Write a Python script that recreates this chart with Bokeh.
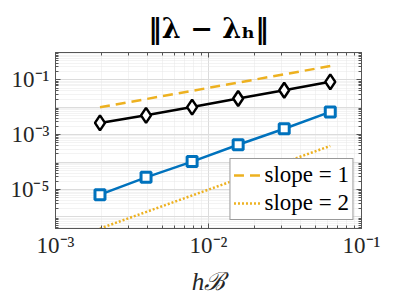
from bokeh.plotting import figure
from bokeh.models import (Range1d, FixedTicker, LogAxis, CustomJSTickFormatter, Legend)
from bokeh.embed import file_html
from bokeh.resources import INLINE

# ---- data ----
h = [1/512, 1/256, 1/128, 1/64, 1/32, 1/16]
err_black = [2.7e-3, 5.1e-3, 1.02e-2, 2.1e-2, 4.2e-2, 8.5e-2]
err_blue = [6.5e-6, 2.8e-5, 1.05e-4, 4.3e-4, 1.66e-3, 6.8e-3]
h_ref = [1/512, 1/16]
slope1 = [1.0e-2, 3.2e-1]
slope2 = [3.8e-7, 3.9e-4]
x_major = [1e-3, 1e-2, 1e-1]
y_major = [1e-5, 1e-3, 1e-1]
legend_labels = ["slope = 1", "slope = 2"]
title_text = "‖λ − λₕ‖"
xlabel_text = "hℬ"

BLUE = "#0072BD"
ORANGE = "#EDB120"
FONT = "Liberation Serif"

decades_x = [1e-3, 1e-2, 1e-1]
decades_y = [10.0 ** k for k in range(-7, 1)]
minor_x = [m * d for d in [1e-3, 1e-2] for m in range(2, 10)]
minor_y = [m * d for d in [10.0 ** k for k in range(-7, 0)] for m in range(2, 10)]

p = figure(frame_width=306, frame_height=176, x_axis_type="log", y_axis_type="log",
           x_range=Range1d(1e-3, 1e-1), y_range=Range1d(3.8e-7, 1.0),
           output_backend="svg", toolbar_location=None,
           min_border_left=55, min_border_right=22, min_border_top=52, min_border_bottom=60)

p.title.text = title_text
p.title.align = "center"
p.title.text_font = "DejaVu Serif"
p.title.text_font_size = "27px"
p.title.text_font_style = "bold"
p.title.text_color = "black"

fmt = CustomJSTickFormatter(code="""
const sup = {'-':'\\u207b','0':'\\u2070','1':'\\u00b9','2':'\\u00b2','3':'\\u00b3','4':'\\u2074','5':'\\u2075','6':'\\u2076','7':'\\u2077','8':'\\u2078','9':'\\u2079'};
const e = String(Math.round(Math.log10(tick)));
return '10' + e.split('').map(c => sup[c]).join('');
""")
blank = CustomJSTickFormatter(code="return ' ';")

def style_axis(ax, ticks, minors, labels=True):
    ax.ticker = FixedTicker(ticks=ticks, minor_ticks=minors)
    ax.major_tick_in = 5
    ax.major_tick_out = 0
    ax.minor_tick_in = 3
    ax.minor_tick_out = 0
    ax.axis_line_color = "#555555"
    ax.major_tick_line_color = "#555555"
    ax.minor_tick_line_color = "#555555"
    if labels:
        ax.formatter = fmt
        ax.major_label_text_font = FONT
        ax.major_label_text_font_size = "23px"
        ax.major_label_text_color = "#262626"
    else:
        ax.formatter = blank
        ax.major_label_text_font_size = "1px"
        ax.major_label_standoff = 0

bottom = p.below[0]
left = p.left[0]
style_axis(bottom, x_major, minor_x)
style_axis(left, y_major, minor_y)
bottom.major_label_standoff = 4
left.major_label_standoff = 6

bottom.axis_label = xlabel_text
bottom.axis_label_text_font = FONT
bottom.axis_label_text_font_size = "25px"
bottom.axis_label_text_font_style = "italic"
bottom.axis_label_text_color = "#262626"
bottom.axis_label_standoff = 7

top = LogAxis()
right = LogAxis()
style_axis(top, x_major, minor_x, labels=False)
style_axis(right, y_major, minor_y, labels=False)
p.add_layout(top, "above")
p.add_layout(right, "right")

for g, dec, mn in [(p.xgrid[0], decades_x, minor_x), (p.ygrid[0], decades_y, minor_y)]:
    g.ticker = FixedTicker(ticks=dec, minor_ticks=mn)
    g.grid_line_color = "#dcdcdc"
    g.grid_line_width = 1
    g.minor_grid_line_color = "#e6e6e6"
    g.minor_grid_line_dash = "1 1"

p.outline_line_color = "#555555"
p.background_fill_color = "white"
p.border_fill_color = "white"

r1 = p.line(h_ref, slope1, line_color=ORANGE, line_width=2.5, line_dash="10 6")
r2 = p.line(h_ref, slope2, line_color=ORANGE, line_width=2.5, line_dash="2 2")

p.line(h, err_black, line_color="black", line_width=2.5)
p.scatter(h, err_black, marker="diamond", size=15, fill_color="white",
          line_color="black", line_width=2.5)
p.line(h, err_blue, line_color=BLUE, line_width=2.5)
p.scatter(h, err_blue, marker="square", size=10, fill_color="white",
          line_color=BLUE, line_width=3)

legend = Legend(items=[(legend_labels[0], [r1]), (legend_labels[1], [r2])],
                location="bottom_right")
legend.label_text_font = FONT
legend.label_text_font_size = "23px"
legend.label_text_color = "black"
legend.border_line_color = "#333333"
legend.border_line_width = 1
legend.glyph_width = 28
legend.glyph_height = 24
legend.label_standoff = 3
legend.spacing = 2
legend.padding = 3
legend.margin = 8
legend.background_fill_alpha = 1.0
p.add_layout(legend, "center")

open("out.html", "w").write(file_html(p, INLINE))
